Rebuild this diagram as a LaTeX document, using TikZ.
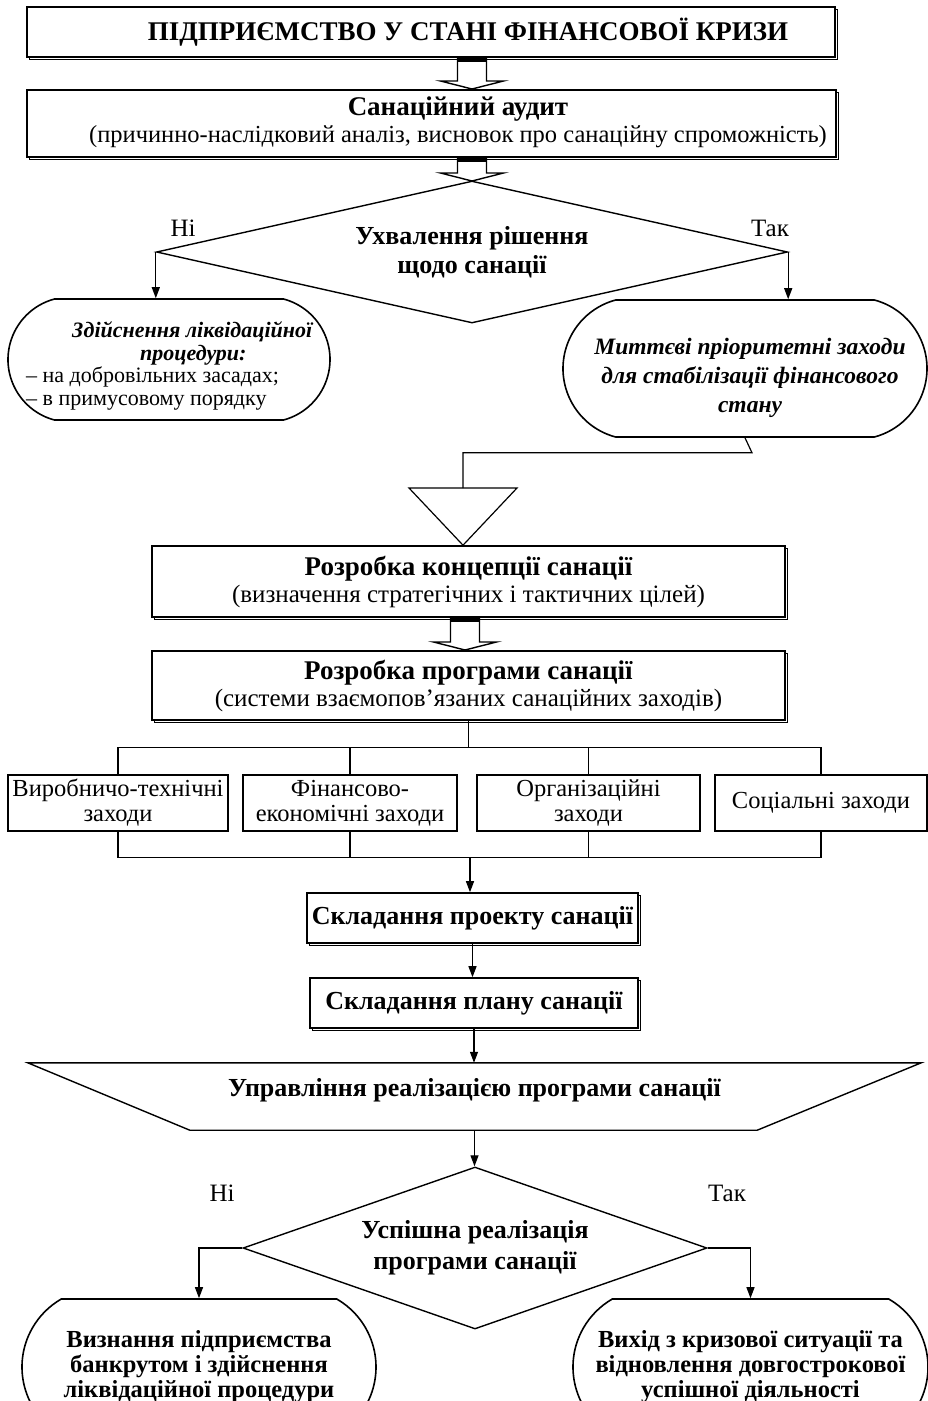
\documentclass[tikz,border=0pt]{standalone}
\usepackage{fontspec}
\setmainfont{Liberation Serif}
\usetikzlibrary{shapes.geometric,shapes.misc,shadows,arrows.meta}

\begin{document}
\begin{tikzpicture}[x=1pt, y=-1pt]
\tikzstyle{txt}=[font=\fontsize{25}{27}\selectfont]
\tikzstyle{txtb}=[font=\bfseries\fontsize{26}{29}\selectfont]
\tikzstyle{boxs}=[rectangle, draw, fill=white, line width=1.6pt, align=center, inner sep=0pt, txt, copy shadow={shadow xshift=2.5pt, shadow yshift=-2.5pt}]
\tikzstyle{boxp}=[rectangle, draw, fill=white, line width=1.2pt, align=center, inner sep=0pt, font=\fontsize{24.5}{25}\selectfont]
\tikzstyle{term}=[rounded rectangle, rounded rectangle arc length=150, draw, line width=1.6pt, align=center, inner sep=0pt]
\tikzstyle{dec}=[diamond, draw, line width=1.4pt, align=center, inner sep=0pt, txtb]
\tikzstyle{drawstyle}=[line width=1.2pt, -{Triangle[length=11pt, width=8pt]}]
\tikzstyle{linestyle}=[line width=1.2pt]
\tikzstyle{hollow}=[draw, fill=white, line width=1.4pt]

\useasboundingbox (0,0) rectangle (928,1401);
\clip (0,0) rectangle (928,1401);

\node[boxs, minimum width=808pt, minimum height=50pt] (G0x0) at (431,32) {};
\node[font=\bfseries\fontsize{27}{27}\selectfont] (G0x0t) at (468,32) {ПІДПРИЄМСТВО У СТАНІ ФІНАНСОВОЇ КРИЗИ};
\node[boxs, minimum width=809pt, minimum height=67pt] (G1x0) at (431.5,123.5) {};
\node[txt, font=\fontsize{24.5}{27}\selectfont, align=center] (G1x0t) at (458,122) {{\bfseries\fontsize{27}{27}\selectfont Санаційний аудит}\\(причинно-наслідковий аналіз, висновок про санаційну спроможність)};

\node[boxs, minimum width=633pt, minimum height=71pt] (G4x0) at (468.5,581.5) {{\bfseries\fontsize{27}{27}\selectfont Розробка концепції санації}\\(визначення стратегічних і тактичних цілей)};
\node[boxs, minimum width=633pt, minimum height=69pt] (G5x0) at (468.5,685.5) {{\bfseries\fontsize{27}{27}\selectfont Розробка програми санації}\\(системи взаємопов’язаних санаційних заходів)};

% block arrows between the upper boxes
\foreach \ax/\ya/\yb in {472/57/89, 472/157/181, 465/617/650}{
  \draw[hollow] (\ax-14.5,\ya) -- (\ax-14.5,\yb-8) -- (\ax-31.5,\yb-8) -- (\ax,\yb) -- (\ax+31.5,\yb-8) -- (\ax+14.5,\yb-8) -- (\ax+14.5,\ya) -- cycle;
  \fill (\ax-14.5,\ya) rectangle (\ax+14.5,\ya+5);
}

\node[dec, aspect=4.44, minimum width=631pt, minimum height=142pt] (G2x0) at (472,252) {Ухвалення рішення\\щодо санації};
\node[txt] (N0) at (183,228) {Ні};
\node[txt] (N1) at (770,228) {Так};

\node[term, minimum width=322pt, minimum height=121pt] (G3x0) at (169,359.5) {};
\node[anchor=west, align=left, inner sep=0pt, font=\fontsize{22}{22.5}\selectfont] (G3x0t) at (26,366) {\hspace*{46pt}\textbf{\textit{Здійснення ліквідаційної}}\\\hspace*{114pt}\textbf{\textit{процедури:}}\\– на добровільних засадах;\\– в примусовому порядку};
\node[term, minimum width=364pt, minimum height=137pt] (G3x1) at (745,368.5) {};
\node[align=center, font=\bfseries\itshape\fontsize{23.5}{29}\selectfont] (G3x1t) at ([xshift=5pt, yshift=-9pt]G3x1.center) {Миттєві пріоритетні заходи\\для стабілізації фінансового\\стану};
\draw[drawstyle] (G2x0.west) -- (G2x0.west |- G3x0.north);
\draw[drawstyle] (G2x0.east) -- (G2x0.east |- G3x1.north);

% merge into the concept box
\coordinate (M0) at (463,488);
\draw[linestyle] (G3x1.south) -- ++(7,15) -| (M0);
\draw[linestyle] (M0) ++(-54,0) -- ++(108,0) -- (M0 |- G4x0.north) -- cycle;

% groups of measures
\node[boxp, minimum width=220pt, minimum height=56pt] (G6x0) at (118,803) {Виробничо-технічні\\заходи};
\node[boxp, minimum width=214pt, minimum height=56pt] (G6x1) at (350,803) {Фінансово-\\економічні заходи};
\node[boxp, minimum width=223pt, minimum height=56pt] (G6x2) at (588.5,803) {Організаційні\\заходи};
\node[boxp, minimum width=212pt, minimum height=56pt] (G6x3) at (821,803) {Соціальні заходи};
\coordinate (B0) at (468.5,748);
\coordinate (B1) at (470,857);
\draw[linestyle] (G5x0.south) -- (B0);
\draw[linestyle] ([yshift=27pt]G6x0.north) -- ([yshift=27pt]G6x3.north);
\draw[linestyle] ([yshift=-26pt]G6x0.south) -- ([yshift=-26pt]G6x3.south);
\foreach \n in {G6x0,G6x1,G6x2,G6x3}{
  \draw[linestyle] (\n.north) -- ++(0,-27);
  \draw[linestyle] (\n.south) -- ++(0,26);
}

\node[boxs, txtb, minimum width=331pt, minimum height=50pt] (G7x0) at (472.5,918) {Складання проекту санації};
\node[boxs, txtb, minimum width=328pt, minimum height=50pt] (G8x0) at (474,1003) {Складання плану санації};
\draw[drawstyle] (B1) -- (B1 |- G7x0.north);
\draw[drawstyle] (G7x0.south) -- (G7x0.south |- G8x0.north);

\node[minimum width=893pt, minimum height=67pt, inner sep=0pt] (G9x0) at (474.5,1096.5) {};
\draw[line width=1.4pt] (G9x0.north west) -- (G9x0.north east) -- ([xshift=-164pt]G9x0.south east) -- ([xshift=162pt]G9x0.south west) -- cycle;
\node[txtb] (G9x0t) at ([yshift=6.5pt]G9x0.center) {Управління реалізацією програми санації};
\draw[drawstyle] (G8x0.south) -- (G8x0.south |- G9x0.north);

\node[dec, aspect=2.86, minimum width=464pt, minimum height=162pt, font=\bfseries\fontsize{26}{31}\selectfont] (G10x0) at (475,1248) {Успішна реалізація\\програми санації};
\draw[drawstyle] (G9x0.south) -- (G9x0.south |- G10x0.north);
\node[txt] (N2) at (222,1193) {Ні};
\node[txt] (N3) at (727,1193) {Так};

\node[term, rounded rectangle arc length=120, minimum width=354pt, minimum height=136pt, font=\bfseries\fontsize{24.5}{25}\selectfont] (G11x0) at (199,1367) {Визнання підприємства\\банкрутом і здійснення\\ліквідаційної процедури};
\node[term, rounded rectangle arc length=120, minimum width=355pt, minimum height=136pt, font=\bfseries\fontsize{24.5}{25}\selectfont] (G11x1) at (750.5,1367) {Вихід з кризової ситуації та\\відновлення довгострокової\\успішної діяльності};
\draw[drawstyle] (G10x0.west) -| (G11x0.north);
\draw[drawstyle] (G10x0.east) -| (G11x1.north);
\end{tikzpicture}
\end{document}
